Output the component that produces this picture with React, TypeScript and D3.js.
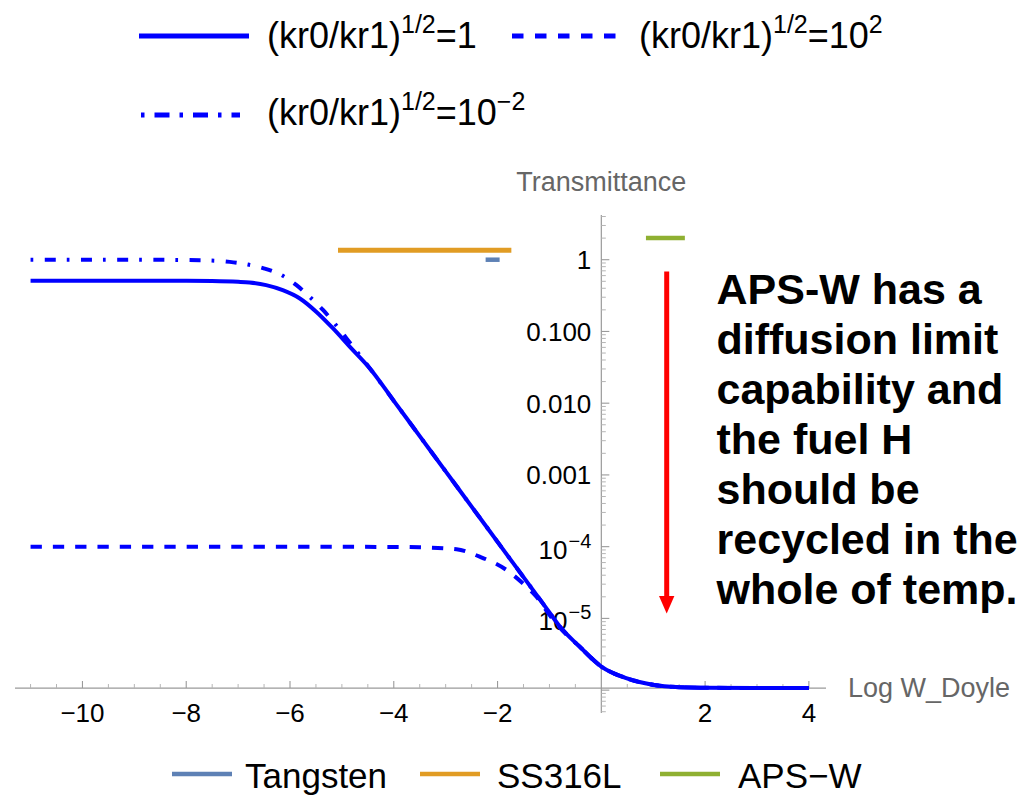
import React from "react";
import * as d3 from "d3";

// ---- data ----
const solidX = [-11, -10, -9, -8, -7.5, -7, -6.78, -6.46, -6.14, -5.81, -5.49, -5.17, -4.85, -4.46, -4.0, -3.5, -3.0, -2.5, -2.0, -1.5, -1.0, -0.8, -0.42, 0, 0.48, 0.99, 1.5, 2, 3, 4];
const solidT = [0.507, 0.507, 0.507, 0.507, 0.504, 0.492, 0.481, 0.442, 0.376, 0.288, 0.187, 0.11, 0.0615, 0.0305, 0.01079, 3.475e-3, 1.122e-3, 3.614e-4, 1.167e-4, 3.758e-5, 1.211e-5, 7.69e-6, 4.05e-6, 2.13e-6, 1.47e-6, 1.19e-6, 1.1e-6, 1.08e-6, 1.07e-6, 1.07e-6];

const dashedX = [-11, -8, -6, -4, -3.5, -2.79, -2.345, -1.83, -1.445, -1.25, -1.0, -0.8, -0.42, 0, 0.48, 0.99, 1.5, 2, 3, 4];
const dashedT = [1.0e-4, 1.0e-4, 1.0e-4, 0.99e-4, 9.8e-5, 9.2e-5, 7.26e-5, 4.74e-5, 2.77e-5, 2.0e-5, 1.12e-5, 7.41e-6, 4.05e-6, 2.13e-6, 1.47e-6, 1.19e-6, 1.1e-6, 1.08e-6, 1.07e-6, 1.07e-6];

const dashDotX = [-11, -9, -7.74, -7.16, -6.81, -6.49, -6.16, -5.875, -5.62, -5.36, -5.14, -4.91, -4.46, -4.0, -3.5, -3.0, -2.5, -2.0, -1.5, -1.0, -0.8, -0.42, 0, 0.48, 0.99, 1.5, 2, 3, 4];
const dashDotT = [1.0, 1.0, 0.984, 0.933, 0.857, 0.753, 0.608, 0.442, 0.303, 0.198, 0.129, 0.08, 0.0305, 0.01079, 3.475e-3, 1.122e-3, 3.614e-4, 1.167e-4, 3.758e-5, 1.211e-5, 7.69e-6, 4.05e-6, 2.13e-6, 1.47e-6, 1.19e-6, 1.1e-6, 1.08e-6, 1.07e-6, 1.07e-6];

const materials = ["Tangsten", "SS316L", "APS\u2212W"];
const materialXStart = [-2.23, -5.075, 0.86];
const materialXEnd = [-1.96, -1.734, 1.61];
const materialT = [1.0, 1.36, 2.0];
const materialColors = ["#5E81B5", "#E19C24", "#8FB032"];

const xMajorTicks = [-10, -8, -6, -4, -2, 2, 4];
const yMajorTicks = [1, 0.1, 0.01, 0.001, 1e-4, 1e-5];
const yTickBase = ["1", "0.100", "0.010", "0.001", "10", "10"];
const yTickSup = ["", "", "", "", "\u22124", "\u22125"];

const annotationLines = [
  "APS-W has a",
  "diffusion limit",
  "capability and",
  "the fuel H",
  "should be",
  "recycled in the",
  "whole of temp.",
];

const BLUE = "#0000FF";
const AXIS = "#9a9a9a";
const LABEL = "#666666";
const FONT = "'Liberation Sans', Arial, sans-serif";

export default function App() {
  const W = 1033;
  const H = 803;
  const x = d3.scaleLinear().domain([-11.3, 4.33]).range([15, 826]);
  const y = d3.scaleLog().domain([4.2, 4.8e-7]).range([215, 713]);
  const axisYPix = y(1.07e-6);
  const x0 = x(0);

  const line = d3
    .line<[number, number]>()
    .x((d) => x(d[0]))
    .y((d) => y(d[1]))
    .curve(d3.curveMonotoneX);

  const solidPath = line(solidX.map((v, i) => [v, solidT[i]]) as [number, number][]) || "";
  const dashedPath = line(dashedX.map((v, i) => [v, dashedT[i]]) as [number, number][]) || "";
  const dashDotPath = line(dashDotX.map((v, i) => [v, dashDotT[i]]) as [number, number][]) || "";

  const xMinorTicks = d3.range(-11, 4.01, 0.5).filter((v) => !xMajorTicks.includes(v) && v !== 0);

  const [yMin, yMax] = [4.8e-7, 4.2];
  const yMinorTicks: number[] = [];
  const yDecades: number[] = [];
  for (let k = -7; k <= 0; k++) {
    for (let m = 1; m <= 9; m++) {
      const v = m * Math.pow(10, k);
      if (v < yMin || v > yMax) continue;
      if (m === 1) yDecades.push(v);
      else yMinorTicks.push(v);
    }
  }

  const LF = 36;
  const SF = 25;
  const SUP = 15;

  return (
    <svg
      width={W}
      height={H}
      style={{ position: "absolute", left: 0, top: 0, background: "#fff" }}
      fontFamily={FONT}
    >
      <rect x={0} y={0} width={W} height={H} fill="#fff" />

      {/* top legend */}
      <g>
        <line x1={139} x2={249} y1={36} y2={36} stroke={BLUE} strokeWidth={5} />
        <text x={267} y={48} fontSize={LF} fill="#000">
          (kr0/kr1)
          <tspan dy={-SUP} fontSize={SF}>1/2</tspan>
          <tspan dy={SUP} fontSize={LF}>=1</tspan>
        </text>
        <line x1={512} x2={617} y1={36} y2={36} stroke={BLUE} strokeWidth={5} strokeDasharray="11.5,11.5" />
        <text x={639} y={48} fontSize={LF} fill="#000">
          (kr0/kr1)
          <tspan dy={-SUP} fontSize={SF}>1/2</tspan>
          <tspan dy={SUP} fontSize={LF}>=10</tspan>
          <tspan dy={-SUP} fontSize={SF}>2</tspan>
        </text>
        <line x1={141} x2={240} y1={115} y2={115} stroke={BLUE} strokeWidth={5} strokeDasharray="3.5,10,15,10" />
        <text x={267} y={125} fontSize={LF} fill="#000">
          (kr0/kr1)
          <tspan dy={-SUP} fontSize={SF}>1/2</tspan>
          <tspan dy={SUP} fontSize={LF}>=10</tspan>
          <tspan dy={-SUP} fontSize={SF}>{"\u22122"}</tspan>
        </text>
      </g>

      {/* axes */}
      <line x1={15} x2={826} y1={axisYPix} y2={axisYPix} stroke={AXIS} strokeWidth={1.2} />
      <line x1={x0} x2={x0} y1={215} y2={713} stroke={AXIS} strokeWidth={1.2} />

      {xMajorTicks.map((v) => (
        <g key={"xm" + v}>
          <line x1={x(v)} x2={x(v)} y1={axisYPix} y2={axisYPix - 7} stroke={AXIS} strokeWidth={1.1} />
          <text x={x(v)} y={722} fontSize={26} textAnchor="middle" fill="#000">
            {v < 0 ? "\u2212" + Math.abs(v) : String(v)}
          </text>
        </g>
      ))}
      {xMinorTicks.map((v) => (
        <line key={"xn" + v} x1={x(v)} x2={x(v)} y1={axisYPix} y2={axisYPix - 4} stroke="#b5b5b5" strokeWidth={1} />
      ))}

      {yDecades.map((v) => (
        <line key={"yd" + v} x1={x0} x2={x0 + 8} y1={y(v)} y2={y(v)} stroke={AXIS} strokeWidth={1.1} />
      ))}
      {yMinorTicks.map((v) => (
        <line key={"yn" + v} x1={x0} x2={x0 + 4.5} y1={y(v)} y2={y(v)} stroke="#b5b5b5" strokeWidth={1} />
      ))}
      {yMajorTicks.map((v, i) =>
        yTickSup[i] ? (
          <text key={"yl" + i} x={x0 - 10} y={y(v) + 12} fontSize={26} textAnchor="end" fill="#000">
            {yTickBase[i]}
            <tspan dx={1} dy={-11} fontSize={20}>{yTickSup[i]}</tspan>
          </text>
        ) : (
          <text key={"yl" + i} x={x0 - 10} y={y(v) + 9.5} fontSize={26} textAnchor="end" fill="#000">
            {yTickBase[i]}
          </text>
        )
      )}

      <text x={x0} y={190.5} fontSize={27} textAnchor="middle" fill={LABEL}>
        Transmittance
      </text>
      <text x={848} y={696.5} fontSize={27} fill={LABEL}>
        Log W_Doyle
      </text>

      {/* material ranges */}
      {materials.map((m, i) => (
        <line
          key={"mat" + m}
          x1={x(materialXStart[i])}
          x2={x(materialXEnd[i])}
          y1={y(materialT[i])}
          y2={y(materialT[i])}
          stroke={materialColors[i]}
          strokeWidth={i === 1 ? 5 : 4.5}
        />
      ))}

      {/* curves */}
      <path d={solidPath} fill="none" stroke={BLUE} strokeWidth={4} />
      <path d={dashedPath} fill="none" stroke={BLUE} strokeWidth={4} strokeDasharray="11.3,11" />
      <path d={dashDotPath} fill="none" stroke={BLUE} strokeWidth={4} strokeDasharray="2.7,11.5,11,11" />

      {/* annotation arrow */}
      <line x1={666.7} x2={666.7} y1={271.5} y2={598} stroke="#FF0000" strokeWidth={5} />
      <path d="M 659 596 L 674.4 596 L 666.7 613.5 Z" fill="#FF0000" />

      <text fontSize={43} fontWeight="bold" fill="#000" fontFamily={FONT}>
        {annotationLines.map((t, i) => (
          <tspan key={i} x={716.5} y={303.5 + 50 * i}>
            {t}
          </tspan>
        ))}
      </text>

      {/* bottom legend */}
      {materials.map((m, i) => {
        const lx = [172, 420, 660][i];
        const tx = [245, 497, 738][i];
        return (
          <g key={"leg" + m}>
            <line x1={lx} x2={lx + 60} y1={774} y2={774} stroke={materialColors[i]} strokeWidth={4.5} />
            <text x={tx} y={788} fontSize={35} fill="#000">
              {m}
            </text>
          </g>
        );
      })}
    </svg>
  );
}
